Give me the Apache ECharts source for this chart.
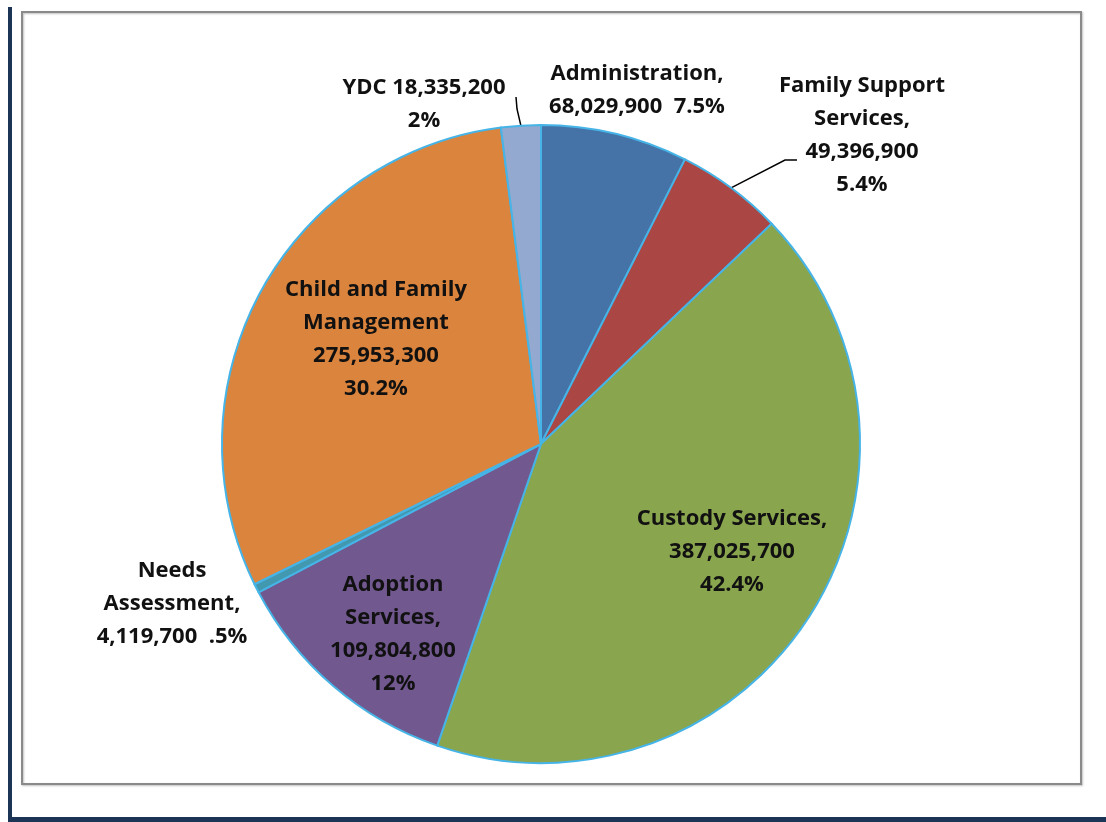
<!DOCTYPE html>
<html>
<head>
<meta charset="utf-8">
<script src="https://cdn.jsdelivr.net/npm/echarts@6/dist/echarts.min.js"></script>
<style>
html,body{margin:0;padding:0;background:#fff;}
#chart{width:1106px;height:822px;}
</style>
</head>
<body>
<div id="chart"></div>
<script>
// ---- data ----
var categories = ['Administration', 'Family Support Services', 'Custody Services', 'Adoption Services', 'Needs Assessment', 'Child and Family Management', 'YDC'];
var values = [68029900, 49396900, 387025700, 109804800, 4119700, 275953300, 18335200];
var percentLabels = ['7.5%', '5.4%', '42.4%', '12%', '.5%', '30.2%', '2%'];
var labelTexts = [
  'Administration,\n68,029,900  7.5%',
  'Family Support\nServices,\n49,396,900\n5.4%',
  'Custody Services,\n387,025,700\n42.4%',
  'Adoption\nServices,\n109,804,800\n12%',
  'Needs\nAssessment,\n4,119,700  .5%',
  'Child and Family\nManagement\n275,953,300\n30.2%',
  'YDC 18,335,200\n2%'
];

// ---- style / layout ----
var colors = ['#4572a7', '#aa4643', '#89a54e', '#71588f', '#4198af', '#db843d', '#93a9cf'];
var CX = 541, CY = 444, R = 319;
// label block centres, offsets from pie centre
var labelOffsets = [[96, -354], [321, -309], [191, 108], [-148, 190], [-369, 160], [-165, -105], [-117, -340]];
// leader line [mid, end] offsets from pie centre (null = no line)
var lineOffsets = [null, [[244, -284], [256, -284]], null, null, null, null, [[-24, -335], [-25, -347]]];

var chart = echarts.init(document.getElementById('chart'), null, {renderer: 'canvas'});

var data = categories.map(function (c, i) {
  return {
    name: c,
    value: values[i],
    itemStyle: {color: colors[i]},
    labelLine: {show: !!lineOffsets[i]}
  };
});

var option = {
  backgroundColor: '#ffffff',
  animation: false,
  graphic: [
    {type: 'rect', shape: {x: 8, y: 7, width: 4, height: 815}, style: {fill: '#1c3557'}, z: 10},
    {type: 'rect', shape: {x: 8, y: 817, width: 1098, height: 5}, style: {fill: '#1c3557'}, z: 10},
    {type: 'rect', shape: {x: 22, y: 12, width: 1059, height: 772}, style: {fill: 'none', stroke: '#8a8a8a', lineWidth: 2, shadowColor: 'rgba(0,0,0,0.25)', shadowBlur: 2, shadowOffsetX: 1, shadowOffsetY: 1}, z: 0}
  ],
  series: [{
    type: 'pie',
    center: [CX, CY],
    radius: R,
    startAngle: 90,
    clockwise: true,
    avoidLabelOverlap: false,
    data: data,
    itemStyle: {borderColor: '#46b4e6', borderWidth: 2},
    label: {
      show: true,
      position: 'outside',
      formatter: function (p) { return labelTexts[p.dataIndex]; },
      fontFamily: '"Open Sans"',
      fontWeight: 'bold',
      fontSize: 22,
      lineHeight: 33,
      color: '#111111',
      align: 'center'
    },
    labelLine: {
      show: true,
      length: 20,
      length2: 10,
      lineStyle: {color: '#000000', width: 1.5}
    },
    emphasis: {disabled: true},
    labelLayout: function (params) {
      var i = params.dataIndex;
      var o = labelOffsets[i];
      var res = {
        x: CX + o[0],
        y: CY + o[1],
        align: 'center',
        verticalAlign: 'middle'
      };
      var lo = lineOffsets[i];
      if (lo && params.labelLinePoints) {
        var s = params.labelLinePoints[0];
        res.labelLinePoints = [
          [s[0], s[1]],
          [CX + lo[0][0], CY + lo[0][1]],
          [CX + lo[1][0], CY + lo[1][1]]
        ];
      }
      return res;
    }
  }]
};
chart.setOption(option);
</script>
</body>
</html>
